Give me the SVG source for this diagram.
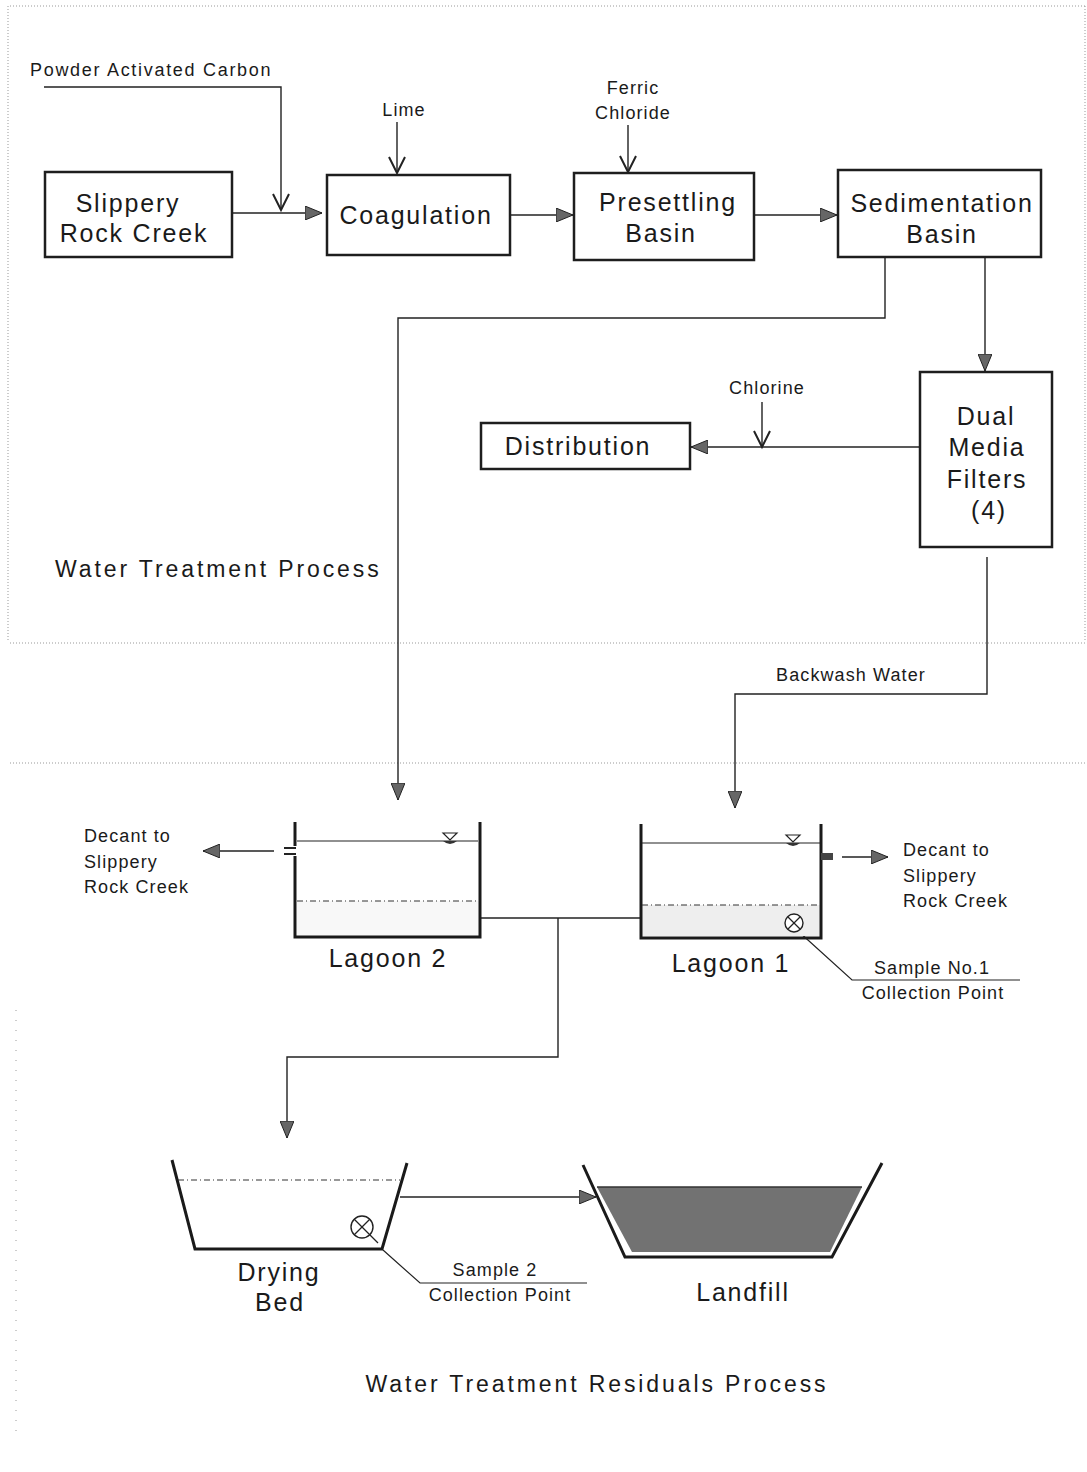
<svg xmlns="http://www.w3.org/2000/svg" width="1087" height="1472" viewBox="0 0 1087 1472">
<defs>
<style>
.bg{fill:#fff}
.box{fill:#fff;stroke:#1e1e1e;stroke-width:2.5}
.big{font-family:"Liberation Sans",Arial,sans-serif;font-size:25px;letter-spacing:1.8px;fill:#1a1a1a;text-anchor:middle}
.title{font-family:"Liberation Sans",Arial,sans-serif;font-size:23px;letter-spacing:2.9px;fill:#1a1a1a}
.small{font-family:"Liberation Sans",Arial,sans-serif;font-size:18px;letter-spacing:1.1px;fill:#1a1a1a}
.mid{text-anchor:middle}
.ln{fill:none;stroke:#222;stroke-width:1.4}
.wall{fill:none;stroke:#1a1a1a;stroke-width:3}
.thin{fill:none;stroke:#222;stroke-width:1.2}
.dash{fill:none;stroke:#333;stroke-width:1.2;stroke-dasharray:6 3 1 3}
.dot{fill:none;stroke:#999;stroke-width:1;stroke-dasharray:1 2}
</style>
<marker id="fa" markerUnits="userSpaceOnUse" markerWidth="18" markerHeight="14" viewBox="0 0 18 14" refX="17" refY="7" orient="auto">
<path d="M0,0 L17,7 L0,14 z" fill="#666" stroke="#222" stroke-width="1"/>
</marker>
<marker id="va" markerUnits="userSpaceOnUse" markerWidth="20" markerHeight="20" viewBox="0 0 20 20" refX="17" refY="10" orient="auto">
<path d="M1,2 L17,10 L1,18" fill="none" stroke="#222" stroke-width="2"/>
</marker>
</defs>
<rect class="bg" x="0" y="0" width="1087" height="1472"/>

<g id="borders">
<line class="dot" x1="10" y1="6" x2="1085" y2="6"/>
<line class="dot" x1="8" y1="6" x2="8" y2="640"/>
<line class="dot" x1="1085" y1="6" x2="1085" y2="640"/>
<line class="dot" x1="10" y1="643" x2="1085" y2="643"/>
<line class="dot" x1="10" y1="763" x2="1085" y2="763"/>
<line class="dot" x1="16" y1="1010" x2="16" y2="1440" style="stroke-dasharray:1 9"/>
</g>

<g id="connectors">
<line class="ln" x1="232" y1="213" x2="322" y2="213" marker-end="url(#fa)"/>
<polyline class="ln" points="44,87 281,87 281,210" marker-end="url(#va)"/>
<line class="ln" x1="397" y1="122" x2="397" y2="173" marker-end="url(#va)"/>
<line class="ln" x1="628" y1="125" x2="628" y2="172" marker-end="url(#va)"/>
<line class="ln" x1="510" y1="215" x2="573" y2="215" marker-end="url(#fa)"/>
<line class="ln" x1="754" y1="215" x2="837" y2="215" marker-end="url(#fa)"/>
<line class="ln" x1="985" y1="257" x2="985" y2="371" marker-end="url(#fa)"/>
<polyline class="ln" points="885,257 885,318 398,318 398,800" marker-end="url(#fa)"/>
<line class="ln" x1="920" y1="447" x2="691" y2="447" marker-end="url(#fa)"/>
<line class="ln" x1="762" y1="402" x2="762" y2="447" marker-end="url(#va)"/>
<polyline class="ln" points="987,557 987,694 735,694 735,808" marker-end="url(#fa)"/>
<line class="ln" x1="274" y1="851" x2="203" y2="851" marker-end="url(#fa)"/>
<line class="ln" x1="842" y1="857" x2="888" y2="857" marker-end="url(#fa)"/>
<line class="ln" x1="480" y1="918" x2="640" y2="918"/>
<polyline class="ln" points="558,918 558,1057 287,1057 287,1138" marker-end="url(#fa)"/>
<line class="ln" x1="400" y1="1197" x2="596" y2="1197" marker-end="url(#fa)"/>
<polyline class="thin" points="798,931 852,980 1020,980"/>
<polyline class="thin" points="383,1250 420,1283 587,1283"/>
</g>

<g id="node-slippery-rock-creek">
<rect class="box" x="45" y="172" width="187" height="85"/>
<text class="big" x="128" y="212">Slippery</text>
<text class="big" x="134" y="242">Rock Creek</text>
</g>
<g id="node-coagulation">
<rect class="box" x="327" y="175" width="183" height="80"/>
<text class="big" x="416" y="224">Coagulation</text>
</g>
<g id="node-presettling">
<rect class="box" x="574" y="173" width="180" height="87"/>
<text class="big" x="668" y="211">Presettling</text>
<text class="big" x="661" y="242">Basin</text>
</g>
<g id="node-sedimentation">
<rect class="box" x="838" y="170" width="203" height="87"/>
<text class="big" x="942" y="212">Sedimentation</text>
<text class="big" x="942" y="243">Basin</text>
</g>
<g id="node-dual-media-filters">
<rect class="box" x="920" y="372" width="132" height="175"/>
<text class="big" x="986" y="425">Dual</text>
<text class="big" x="987" y="456">Media</text>
<text class="big" x="987" y="488">Filters</text>
<text class="big" x="989" y="519">(4)</text>
</g>
<g id="node-distribution">
<rect class="box" x="481" y="423" width="209" height="46"/>
<text class="big" x="578" y="455">Distribution</text>
</g>

<g id="labels">
<text class="small" x="30" y="76" style="letter-spacing:1.7px">Powder Activated Carbon</text>
<text class="small mid" x="404" y="116">Lime</text>
<text class="small mid" x="633" y="94">Ferric</text>
<text class="small mid" x="633" y="119">Chloride</text>
<text class="small mid" x="767" y="394">Chlorine</text>
<text class="small mid" x="851" y="681">Backwash Water</text>
<text class="title" x="55" y="577">Water Treatment Process</text>
<text class="title mid" x="597" y="1392">Water Treatment Residuals Process</text>
</g>

<g id="node-lagoon-2">
<rect x="297" y="901" width="182" height="35" fill="#f8f8f8"/>
<polyline class="wall" points="295,822 295,846"/>
<polyline class="wall" points="295,856 295,937 480,937 480,822"/>
<line x1="284" y1="848" x2="296" y2="848" stroke="#222" stroke-width="2"/>
<line x1="284" y1="854" x2="296" y2="854" stroke="#222" stroke-width="2"/>
<line class="thin" x1="297" y1="841" x2="478" y2="841"/>
<path d="M443,833 L457,833 L450,840 z" fill="none" stroke="#222" stroke-width="1.2"/>
<path d="M443,841 Q450,847 457,841 z" fill="#333"/>
<line class="dash" x1="297" y1="901" x2="478" y2="901"/>
<text class="small" x="84" y="842">Decant to</text>
<text class="small" x="84" y="868">Slippery</text>
<text class="small" x="84" y="893">Rock Creek</text>
<text class="big" x="388" y="967">Lagoon 2</text>
</g>

<g id="node-lagoon-1">
<rect x="642" y="905" width="178" height="31" fill="#eeeeee"/>
<polyline class="wall" points="641,824 641,938 821,938 821,824"/>
<rect x="821" y="853" width="12" height="7" fill="#444"/>
<line class="thin" x1="642" y1="843" x2="820" y2="843"/>
<path d="M786,835 L800,835 L793,842 z" fill="none" stroke="#222" stroke-width="1.2"/>
<path d="M786,843 Q793,849 800,843 z" fill="#333"/>
<line class="dash" x1="642" y1="905" x2="820" y2="905"/>
<circle cx="794" cy="923" r="9" fill="#fff" stroke="#222" stroke-width="1.4"/>
<line class="thin" x1="788" y1="917" x2="800" y2="929"/>
<line class="thin" x1="800" y1="917" x2="788" y2="929"/>
<text class="small" x="903" y="856">Decant to</text>
<text class="small" x="903" y="882">Slippery</text>
<text class="small" x="903" y="907">Rock Creek</text>
<text class="big" x="731" y="972">Lagoon 1</text>
<text class="small mid" x="932" y="974">Sample No.1</text>
<text class="small mid" x="933" y="999">Collection Point</text>
</g>

<g id="node-drying-bed">
<polyline class="wall" points="172,1160 195,1249 382,1249 407,1163"/>
<line class="dash" x1="178" y1="1180" x2="400" y2="1180"/>
<circle cx="362" cy="1227" r="11" fill="#fff" stroke="#222" stroke-width="1.4"/>
<line class="thin" x1="354" y1="1219" x2="370" y2="1235"/>
<line class="thin" x1="370" y1="1219" x2="354" y2="1235"/>
<line class="thin" x1="370" y1="1235" x2="378" y2="1243"/>
<text class="big" x="279" y="1281">Drying</text>
<text class="big" x="280" y="1311">Bed</text>
<text class="small mid" x="495" y="1276">Sample 2</text>
<text class="small mid" x="500" y="1301">Collection Point</text>
</g>

<g id="node-landfill">
<polygon points="597,1187 862,1187 830,1252 632,1252" fill="#727272"/>
<line x1="597" y1="1187" x2="862" y2="1187" stroke="#333" stroke-width="1.5"/>
<polyline class="wall" points="583,1165 625,1257 832,1257 882,1163"/>
<text class="big" x="743" y="1301">Landfill</text>
</g>
</svg>
